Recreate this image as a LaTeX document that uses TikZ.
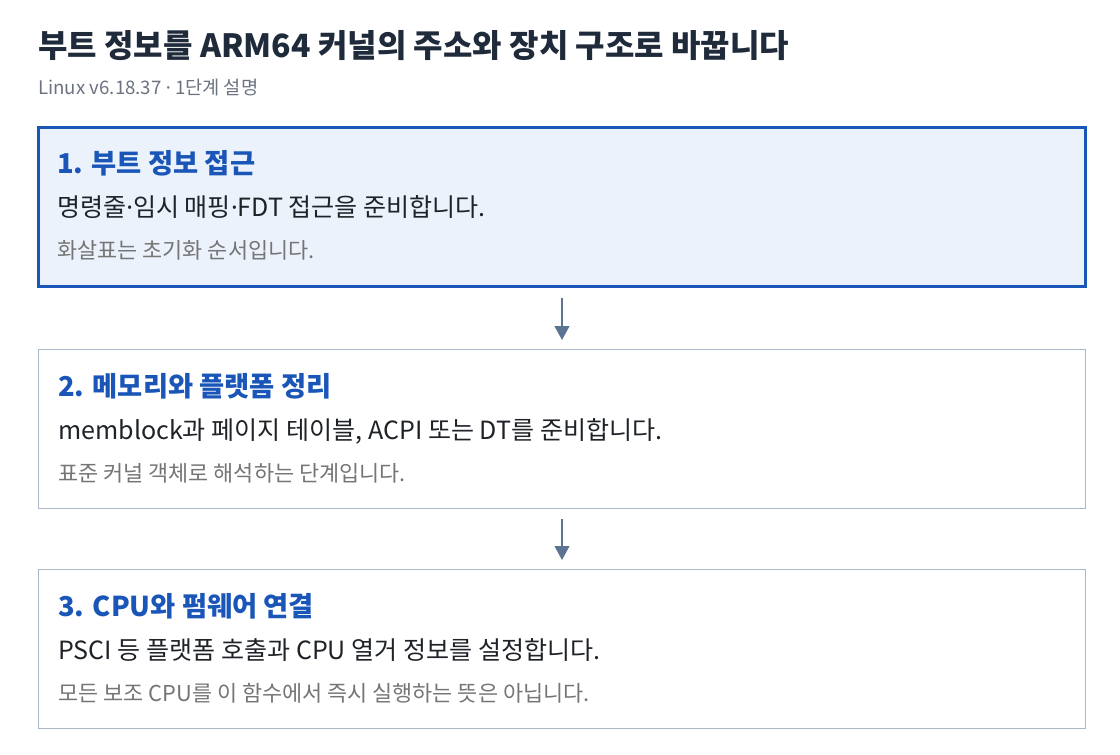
\documentclass[tikz,border=0pt]{standalone}
\usepackage{fontspec}
\setmainfont{Noto Sans CJK KR}
\newfontfamily\latinfont{Noto Sans}
\newcommand{\mdot}{{\latinfont ·}}
\usepackage{xcolor}
\usetikzlibrary{positioning, arrows.meta}

\definecolor{titlecol}{HTML}{1F2A3A}
\definecolor{subcol}{HTML}{6B7280}
\definecolor{headcol}{HTML}{1A56B8}
\definecolor{bodycol}{HTML}{1F2328}
\definecolor{notecol}{HTML}{757575}
\definecolor{hifill}{HTML}{EBF2FC}
\definecolor{boxline}{HTML}{A9B7C6}
\definecolor{arrowcol}{HTML}{5A7491}

\begin{document}
\begin{tikzpicture}[
    stepbox/.style={rectangle, draw=boxline, line width=0.75pt, fill=white,
        minimum width=785.25pt, minimum height=119.25pt, inner sep=0pt},
    hibox/.style={stepbox, draw=headcol, line width=2.25pt, fill=hifill},
    head/.style={anchor=base west, inner sep=0pt, text=headcol, font=\bfseries\fontsize{20.5}{24}\selectfont},
    body/.style={anchor=base west, inner sep=0pt, text=bodycol, font=\fontsize{18.8}{22}\selectfont},
    note/.style={anchor=base west, inner sep=0pt, text=notecol, font=\fontsize{16.4}{20}\selectfont},
    arrow/.style={-{Triangle[length=10.5pt,width=11pt]}, draw=arrowcol, fill=arrowcol, line width=1.6pt,
        shorten <=7.5pt, shorten >=6.75pt}
]
\useasboundingbox (0,0) rectangle (840pt,-565.5pt);
\node (TITLE) [anchor=base west, inner sep=0pt, text=titlecol, font=\bfseries\fontsize{24}{28}\selectfont]
    at (28.5pt,-42.75pt) {부트 정보를 ARM64 커널의 주소와 장치 구조로 바꿉니다};
\node (SUB) [anchor=base west, inner sep=0pt, text=subcol, font=\fontsize{14}{16}\selectfont]
    at (28.5pt,-70.5pt) {Linux v6.18.37 \mdot{} 1단계 설명};
% steps
\node (STEPONE) [hibox, anchor=north west] at (27.75pt,-94.5pt) {};
\node (STEPTWO) [stepbox, below=45.75pt of STEPONE] {};
\node (STEPTHREE) [stepbox, below=45pt of STEPTWO] {};
\node (HEADONE) [head] at ([shift={(15pt,-35.75pt)}]STEPONE.north west) {1. 부트 정보 접근};
\node (BODYONE) [body] at ([shift={(15pt,-67.5pt)}]STEPONE.north west) {명령줄\mdot 임시 매핑\mdot FDT 접근을 준비합니다.};
\node (NOTEONE) [note] at ([shift={(15pt,-99.5pt)}]STEPONE.north west) {화살표는 초기화 순서입니다.};
\node (HEADTWO) [head] at ([shift={(15pt,-35.75pt)}]STEPTWO.north west) {2. 메모리와 플랫폼 정리};
\node (BODYTWO) [body] at ([shift={(15pt,-67.5pt)}]STEPTWO.north west) {memblock과 페이지 테이블, ACPI 또는 DT를 준비합니다.};
\node (NOTETWO) [note] at ([shift={(15pt,-99.5pt)}]STEPTWO.north west) {표준 커널 객체로 해석하는 단계입니다.};
\node (HEADTHREE) [head] at ([shift={(15pt,-35.75pt)}]STEPTHREE.north west) {3. CPU와 펌웨어 연결};
\node (BODYTHREE) [body] at ([shift={(15pt,-67.5pt)}]STEPTHREE.north west) {PSCI 등 플랫폼 호출과 CPU 열거 정보를 설정합니다.};
\node (NOTETHREE) [note] at ([shift={(15pt,-99.5pt)}]STEPTHREE.north west) {모든 보조 CPU를 이 함수에서 즉시 실행하는 뜻은 아닙니다.};
\draw [arrow] (STEPONE) -- (STEPTWO);
\draw [arrow] (STEPTWO) -- (STEPTHREE);

\end{tikzpicture}
\end{document}
